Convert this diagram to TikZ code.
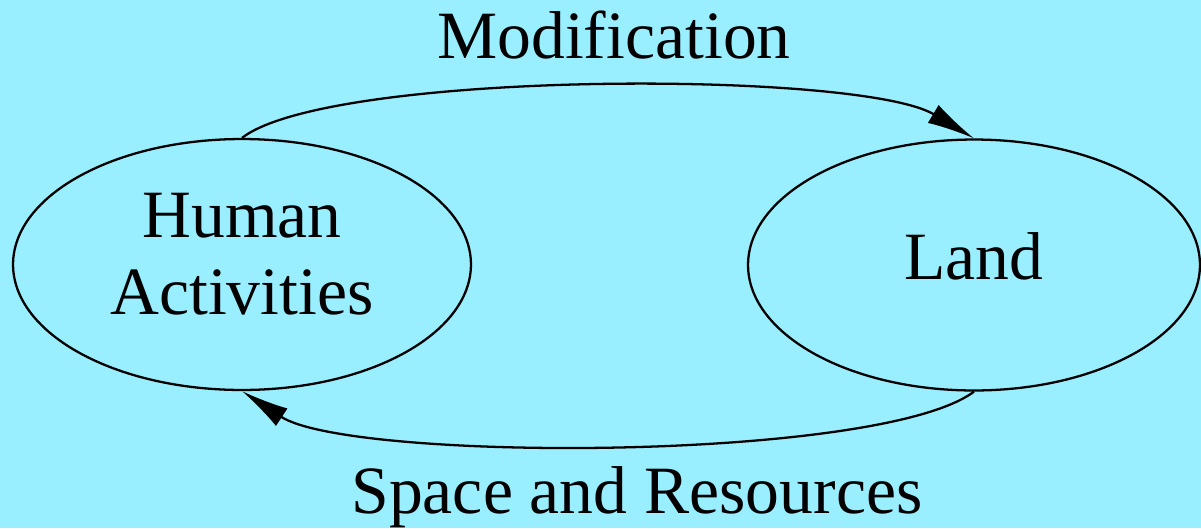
\documentclass[tikz,border=0pt]{standalone}
\usepackage{fontspec}
\setmainfont{Liberation Serif}
\usepackage{tikz}
\usetikzlibrary{positioning, arrows.meta, shapes.geometric, calc}
\definecolor{skycyan}{RGB}{153, 238, 255}
\newcommand{\biglabel}{\fontsize{38.5pt}{43.5pt}\selectfont}
\tikzset{
  % Ellipse node
  blob/.style={
    ellipse, draw=black, line width=1.3pt, inner sep=0pt,
    minimum width=9.1cm, minimum height=5.02cm,
    font=\biglabel, align=center, text=black
  },
  % Arrow style
  arr/.style={-{Latex[length=0.95cm, width=0.42cm]}, line width=1.3pt, color=black},
  % Edge label
  lbl/.style={font=\biglabel, text=black, inner sep=0pt, anchor=base},
}

\begin{document}
\begin{tikzpicture}[x=0.02cm, y=-0.02cm]
  \fill[skycyan] (0,0) rectangle (1201,528);
  \useasboundingbox (0,0) rectangle (1201,528);
  \node[blob, minimum width=9.16cm, text height=69.5pt, text depth=12.7pt] (human) at (242,264.5) {Human\\Activities};
  \node[blob, minimum width=9.04cm, text height=26pt, text depth=9pt] (land) at (974,265) {Land};
  \node[lbl] (modif) at (614,58) {Modification};
  \node[lbl] (space) at (637,513) {Space and Resources};
  \draw[arr] (human.north) .. controls (330,70) and (860,70) .. (land.north);
  \draw[arr] (land.south) .. controls (880,462) and (350,462) .. (human.south);
\end{tikzpicture}
\end{document}
